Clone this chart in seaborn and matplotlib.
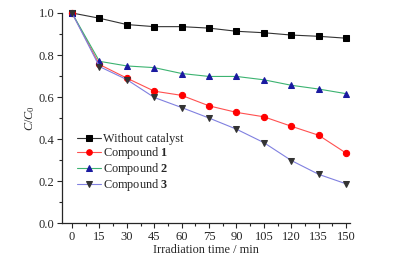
import pandas as pd
import matplotlib
matplotlib.use('Agg')
import matplotlib.pyplot as plt
import seaborn as sns
from matplotlib.ticker import MultipleLocator

sns.set_style('ticks')
plt.rcParams['font.family'] = ['Liberation Serif', 'DejaVu Serif']
plt.rcParams['mathtext.fontset'] = 'custom'
plt.rcParams['mathtext.rm'] = 'Liberation Serif'
plt.rcParams['mathtext.it'] = 'Liberation Serif:italic'
plt.rcParams['mathtext.bf'] = 'Liberation Serif:bold'

time = [0, 15, 30, 45, 60, 75, 90, 105, 120, 135, 150]
without_cat = [1.0, 0.975, 0.945, 0.935, 0.935, 0.928, 0.913, 0.906, 0.895, 0.889, 0.880]
compound1 = [1.0, 0.755, 0.69, 0.628, 0.608, 0.558, 0.527, 0.506, 0.461, 0.418, 0.333]
compound2 = [1.0, 0.77, 0.748, 0.74, 0.712, 0.698, 0.698, 0.682, 0.656, 0.638, 0.616]
compound3 = [1.0, 0.745, 0.683, 0.598, 0.55, 0.5, 0.447, 0.383, 0.298, 0.232, 0.187]

labels = ['Without catalyst', r'Compound $\mathbf{1}$', r'Compound $\mathbf{2}$', r'Compound $\mathbf{3}$']
series = [without_cat, compound1, compound2, compound3]
line_colors = ['#333333', '#ff5050', '#3cb371', '#8080e0']
marker_colors = ['black', 'red', '#1a1aa0', '#333333']
markers = ['s', 'o', '^', 'v']

fig = plt.figure(figsize=(4.13, 2.65), dpi=100)
ax = fig.add_axes([0.150, 0.158, 0.697, 0.793])

for lab, vals, lc, mc, mk in zip(labels, series, line_colors, marker_colors, markers):
    df = pd.DataFrame({'time': time, 'ratio': vals})
    sns.lineplot(data=df, x='time', y='ratio', ax=ax, color=lc, lw=0.8,
                 marker=mk, markersize=4.5, markerfacecolor=mc, markeredgecolor=mc,
                 label=lab, clip_on=False, zorder=3)

ax.set_xlim(-5.5, 152)
ax.set_ylim(0, 1.0)
ax.set_xticks(time)
ax.xaxis.set_minor_locator(MultipleLocator(7.5))
ax.yaxis.set_major_locator(MultipleLocator(0.2))
ax.yaxis.set_minor_locator(MultipleLocator(0.1))
ax.set_yticklabels([f'{v:.1f}' for v in ax.get_yticks()])
ax.tick_params(which='major', direction='out', length=3.5, width=0.8, labelsize=9, pad=2)
ax.tick_params(which='minor', direction='out', length=2, width=0.8)
for s in ['top', 'right']:
    ax.spines[s].set_visible(False)
for s in ['left', 'bottom']:
    ax.spines[s].set_linewidth(0.9)
ax.set_xlabel('Irradiation time / min', fontsize=8.8, labelpad=1)
ax.set_ylabel(r'$C/C_0$', fontsize=8.8, labelpad=1)

ax.legend(loc='upper left', bbox_to_anchor=(0.035, 0.45), frameon=False, fontsize=8.8,
          handlelength=2.0, handletextpad=0.1, labelspacing=0.0, borderaxespad=0,
          markerscale=0.9)

fig.savefig('out.png', dpi=100)
